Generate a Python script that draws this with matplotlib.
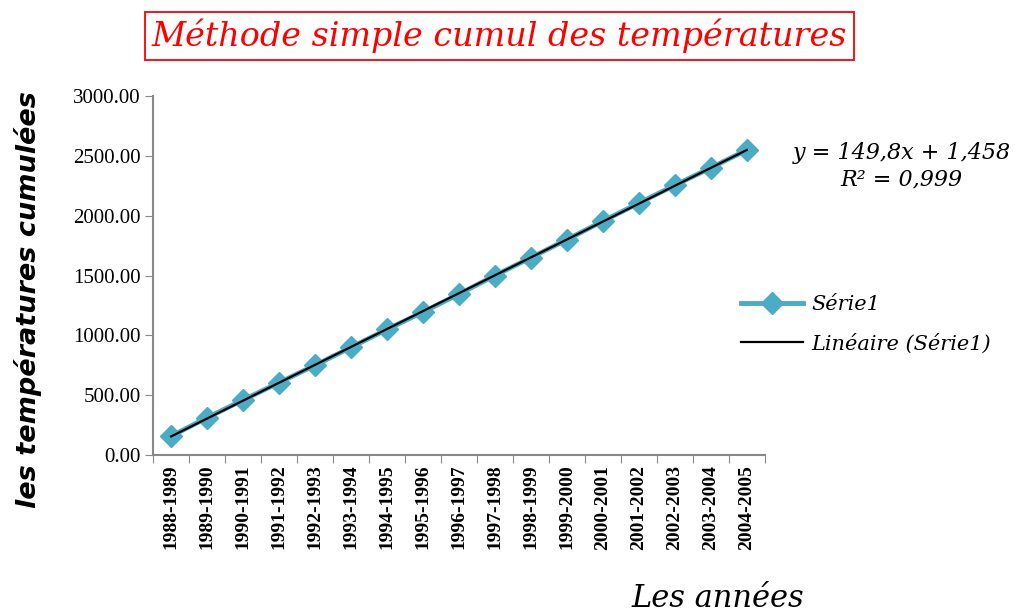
import numpy as np
import matplotlib.pyplot as plt
from matplotlib.lines import Line2D

# données
saisons = ['1988-1989', '1989-1990', '1990-1991', '1991-1992', '1992-1993',
           '1993-1994', '1994-1995', '1995-1996', '1996-1997', '1997-1998',
           '1998-1999', '1999-2000', '2000-2001', '2001-2002', '2002-2003',
           '2003-2004', '2004-2005']
cumul = [158, 312, 460, 605, 750, 900, 1050, 1195, 1345, 1500,
         1650, 1800, 1955, 2105, 2255, 2400, 2550]

x = np.arange(len(saisons))
bleu = '#4BACC6'

fig = plt.figure(figsize=(10.21, 6.12), dpi=100)
ax = fig.add_axes([0.150, 0.2565, 0.599, 0.5865])

ax.plot(x, cumul, color=bleu, linewidth=3.5, marker='D', markersize=11,
        markeredgecolor=bleu, zorder=2)

# tendance linéaire (x de 1 à n comme Excel)
a, b = np.polyfit(x + 1, cumul, 1)
ax.plot(x, a * (x + 1) + b, color='black', linewidth=1.6, zorder=3)

ax.set_xlim(-0.5, len(saisons) - 0.5)
ax.set_ylim(0, 3000)
ax.set_yticks(np.arange(0, 3001, 500))
ax.set_yticklabels(['%.2f' % v for v in np.arange(0, 3001, 500)],
                   family='Liberation Serif', fontsize=15)
ax.set_xticks(np.arange(-0.5, len(saisons)), minor=False)
ax.set_xticklabels([])
ax.set_xticks(x, minor=True)
ax.set_xticklabels(saisons, minor=True, rotation=90, family='Liberation Serif',
                   fontweight='bold', fontsize=14)
ax.tick_params(axis='x', which='minor', length=0, pad=7)
ax.tick_params(axis='x', which='major', length=6, color='#888888', direction='out')
ax.tick_params(axis='y', length=6, color='#888888', direction='out', pad=3)

for s in ['top', 'right']:
    ax.spines[s].set_visible(False)
for s in ['left', 'bottom']:
    ax.spines[s].set_color('#888888')
    ax.spines[s].set_linewidth(1.5)

fig.text(0.489, 0.941, 'Méthode simple cumul des températures', color='red',
         family='DejaVu Serif', style='italic', fontsize=24, ha='center', va='center',
         bbox=dict(boxstyle='square,pad=0.2', facecolor='white', edgecolor='red',
                   linewidth=1.3))

fig.text(0.027, 0.51, 'les températures cumulées', rotation=90, family='DejaVu Sans',
         style='italic', fontweight='bold', fontsize=19.5, ha='center', va='center')
fig.text(0.703, 0.022, 'Les années', family='DejaVu Serif', style='italic',
         fontsize=22, ha='center', va='center')

fig.text(0.883, 0.728, 'y = 149,8x + 1,458\nR² = 0,999', family='DejaVu Serif',
         style='italic', fontsize=16, ha='center', va='center', linespacing=1.25)

handles = [Line2D([], [], color=bleu, linewidth=3.5, marker='D', markersize=11),
           Line2D([], [], color='black', linewidth=1.6)]
fig.legend(handles, ['Série1', 'Linéaire (Série1)'], loc='center left',
           bbox_to_anchor=(0.707, 0.47), frameon=False,
           prop={'family': 'DejaVu Serif', 'style': 'italic', 'size': 15},
           handlelength=3, labelspacing=0.9, handletextpad=0.4)

fig.savefig('out.png', dpi=100)
